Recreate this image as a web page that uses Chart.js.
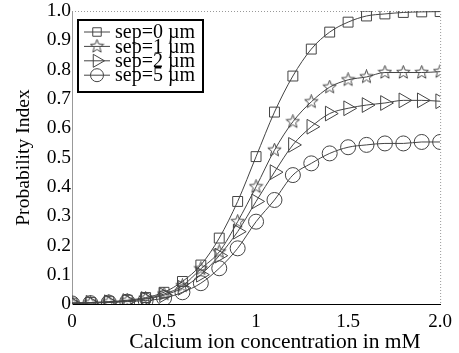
<!DOCTYPE html>
<html>
<head>
<meta charset="utf-8">
<script src="https://cdn.jsdelivr.net/npm/chart.js@4"></script>
<style>
  html, body { margin: 0; padding: 0; background: #fff; }
  canvas { display: block; }
</style>
</head>
<body>
<canvas id="chart" width="459" height="353"></canvas>
<script>
const calcium = [0, 0.1, 0.2, 0.3, 0.4, 0.5, 0.6, 0.7, 0.8, 0.9, 1.0, 1.1, 1.2, 1.3, 1.4, 1.5, 1.6, 1.7, 1.8, 1.9, 2.0]
const sep0 = [0.003, 0.005, 0.008, 0.013, 0.022, 0.04, 0.077, 0.133, 0.225, 0.35, 0.503, 0.655, 0.778, 0.87, 0.928, 0.962, 0.983, 0.99, 0.995, 0.997, 0.998]
const sep1 = [0.003, 0.004, 0.007, 0.011, 0.019, 0.034, 0.062, 0.12, 0.178, 0.281, 0.4, 0.525, 0.622, 0.69, 0.74, 0.765, 0.775, 0.79, 0.79, 0.79, 0.793]
const sep2 = [0.003, 0.004, 0.006, 0.01, 0.017, 0.03, 0.055, 0.1, 0.165, 0.247, 0.35, 0.45, 0.543, 0.605, 0.65, 0.668, 0.679, 0.686, 0.695, 0.695, 0.692]
const sep5 = [0.002, 0.003, 0.005, 0.008, 0.012, 0.02, 0.04, 0.071, 0.122, 0.19, 0.281, 0.355, 0.44, 0.48, 0.514, 0.535, 0.543, 0.548, 0.548, 0.553, 0.553]
const seriesLabels = ['sep=0 µm', 'sep=1 µm', 'sep=2 µm', 'sep=5 µm']
const yTicks = ['0', '0.1', '0.2', '0.3', '0.4', '0.5', '0.6', '0.7', '0.8', '0.9', '1.0']
const xTicks = ['0', '0.5', '1', '1.5', '2.0']
const xTitle = 'Calcium ion concentration in mM'
const yTitle = 'Probability Index'

const serif = "'Liberation Serif', 'Times New Roman', serif"
const ink = '#444'

// 5 point hollow star marker
function makeStar(){
  const c = document.createElement('canvas')
  c.width = 15; c.height = 15
  const g = c.getContext('2d')
  g.strokeStyle = ink
  g.lineWidth = 1
  g.beginPath()
  for(let i = 0; i < 10; i++){
    const r = i % 2 == 0 ? 7 : 3
    const a = -Math.PI/2 + i*Math.PI/5
    const px = 7.5 + r*Math.cos(a), py = 7.5 + r*Math.sin(a)
    if(i == 0) g.moveTo(px, py); else g.lineTo(px, py)
  }
  g.closePath()
  g.stroke()
  return c
}
const starImg = makeStar()

function series(label, values, style, radius, rotation){
  return {
    label: label,
    data: calcium.map((x, i) => ({x: x, y: values[i]})),
    borderColor: ink,
    borderWidth: 1,
    pointStyle: style,
    pointRadius: radius,
    pointRotation: rotation || 0,
    pointBorderColor: ink,
    pointBorderWidth: 1,
    pointBackgroundColor: 'rgba(0,0,0,0)',
    fill: false,
    cubicInterpolationMode: 'monotone'
  }
}

const datasets = [
  series(seriesLabels[0], sep0, 'rect', 7),
  series(seriesLabels[1], sep1, starImg, 7),
  series(seriesLabels[2], sep2, 'triangle', 8.5, 90),
  series(seriesLabels[3], sep5, 'circle', 7.5)
]

const frame = {
  id: 'frame',
  beforeDatasetsDraw(chart){
    const a = chart.chartArea, ctx = chart.ctx
    ctx.save()
    ctx.strokeStyle = '#999'
    ctx.lineWidth = 1
    ctx.setLineDash([1, 2])
    ctx.beginPath()
    ctx.moveTo(a.left, a.top + 0.5); ctx.lineTo(a.right, a.top + 0.5)
    ctx.moveTo(a.right + 0.5, a.top); ctx.lineTo(a.right + 0.5, a.bottom)
    ctx.stroke()
    ctx.restore()
  },
  afterDraw(chart){
    const ctx = chart.ctx
    ctx.save()
    // x axis title, sits a bit right of centre in the original
    ctx.fillStyle = '#000'
    ctx.font = '21.5px ' + serif
    ctx.textAlign = 'center'
    ctx.textBaseline = 'alphabetic'
    ctx.fillText(xTitle, 275, 347.5)

    const bx = 78, by = 20, bw = 125, bh = 72
    ctx.textAlign = 'left'
    ctx.fillStyle = '#fff'
    ctx.fillRect(bx, by, bw, bh)
    ctx.strokeStyle = '#000'
    ctx.lineWidth = 2
    ctx.strokeRect(bx, by, bw, bh)
    ctx.font = '20px ' + serif
    ctx.textBaseline = 'middle'
    chart.data.datasets.forEach((ds, i) => {
      const y = by + 12 + i*14.4
      ctx.strokeStyle = ink
      ctx.lineWidth = 1
      ctx.beginPath()
      ctx.moveTo(84, y); ctx.lineTo(110, y)
      ctx.stroke()
      ctx.fillStyle = 'rgba(0,0,0,0)'
      Chart.helpers.drawPoint(ctx, {
        pointStyle: ds.pointStyle, radius: ds.pointRadius - 1, rotation: ds.pointRotation,
        borderWidth: 1
      }, 97, y)
      ctx.fillStyle = '#000'
      ctx.fillText(ds.label, 115, y + 1)
    })
    ctx.restore()
  }
}

new Chart(document.getElementById('chart').getContext('2d'), {
  type: 'line',
  data: { datasets: datasets },
  plugins: [frame],
  options: {
    responsive: false,
    animation: false,
    layout: { padding: { top: 11, right: 17, left: 0, bottom: 0 } },
    plugins: { legend: { display: false }, tooltip: { enabled: false } },
    scales: {
      x: {
        type: 'linear', min: 0, max: 2,
        afterFit: s => { s.height = 49 },
        afterBuildTicks: s => { s.ticks = xTicks.map(t => ({value: Number(t)})) },
        ticks: { color: '#000', font: { family: serif, size: 19 }, padding: 7, maxRotation: 0,
          callback: (v, i) => xTicks[i] },
        grid: { display: false, drawTicks: false },
        border: { color: '#000', width: 1 }
      },
      y: {
        min: 0, max: 1,
        afterFit: s => { s.width = 72 },
        afterBuildTicks: s => { s.ticks = yTicks.map(t => ({value: Number(t)})) },
        ticks: { color: '#000', font: { family: serif, size: 19.5, lineHeight: 0.9 }, padding: 1,
          callback: (v, i) => yTicks[i] },
        grid: { display: false, drawTicks: false },
        border: { color: '#999', width: 1, dash: [3, 2] },
        title: { display: true, text: yTitle, color: '#000',
          font: { family: serif, size: 19.6 }, padding: { top: 12, bottom: 0 } }
      }
    }
  }
})
</script>
</body>
</html>
